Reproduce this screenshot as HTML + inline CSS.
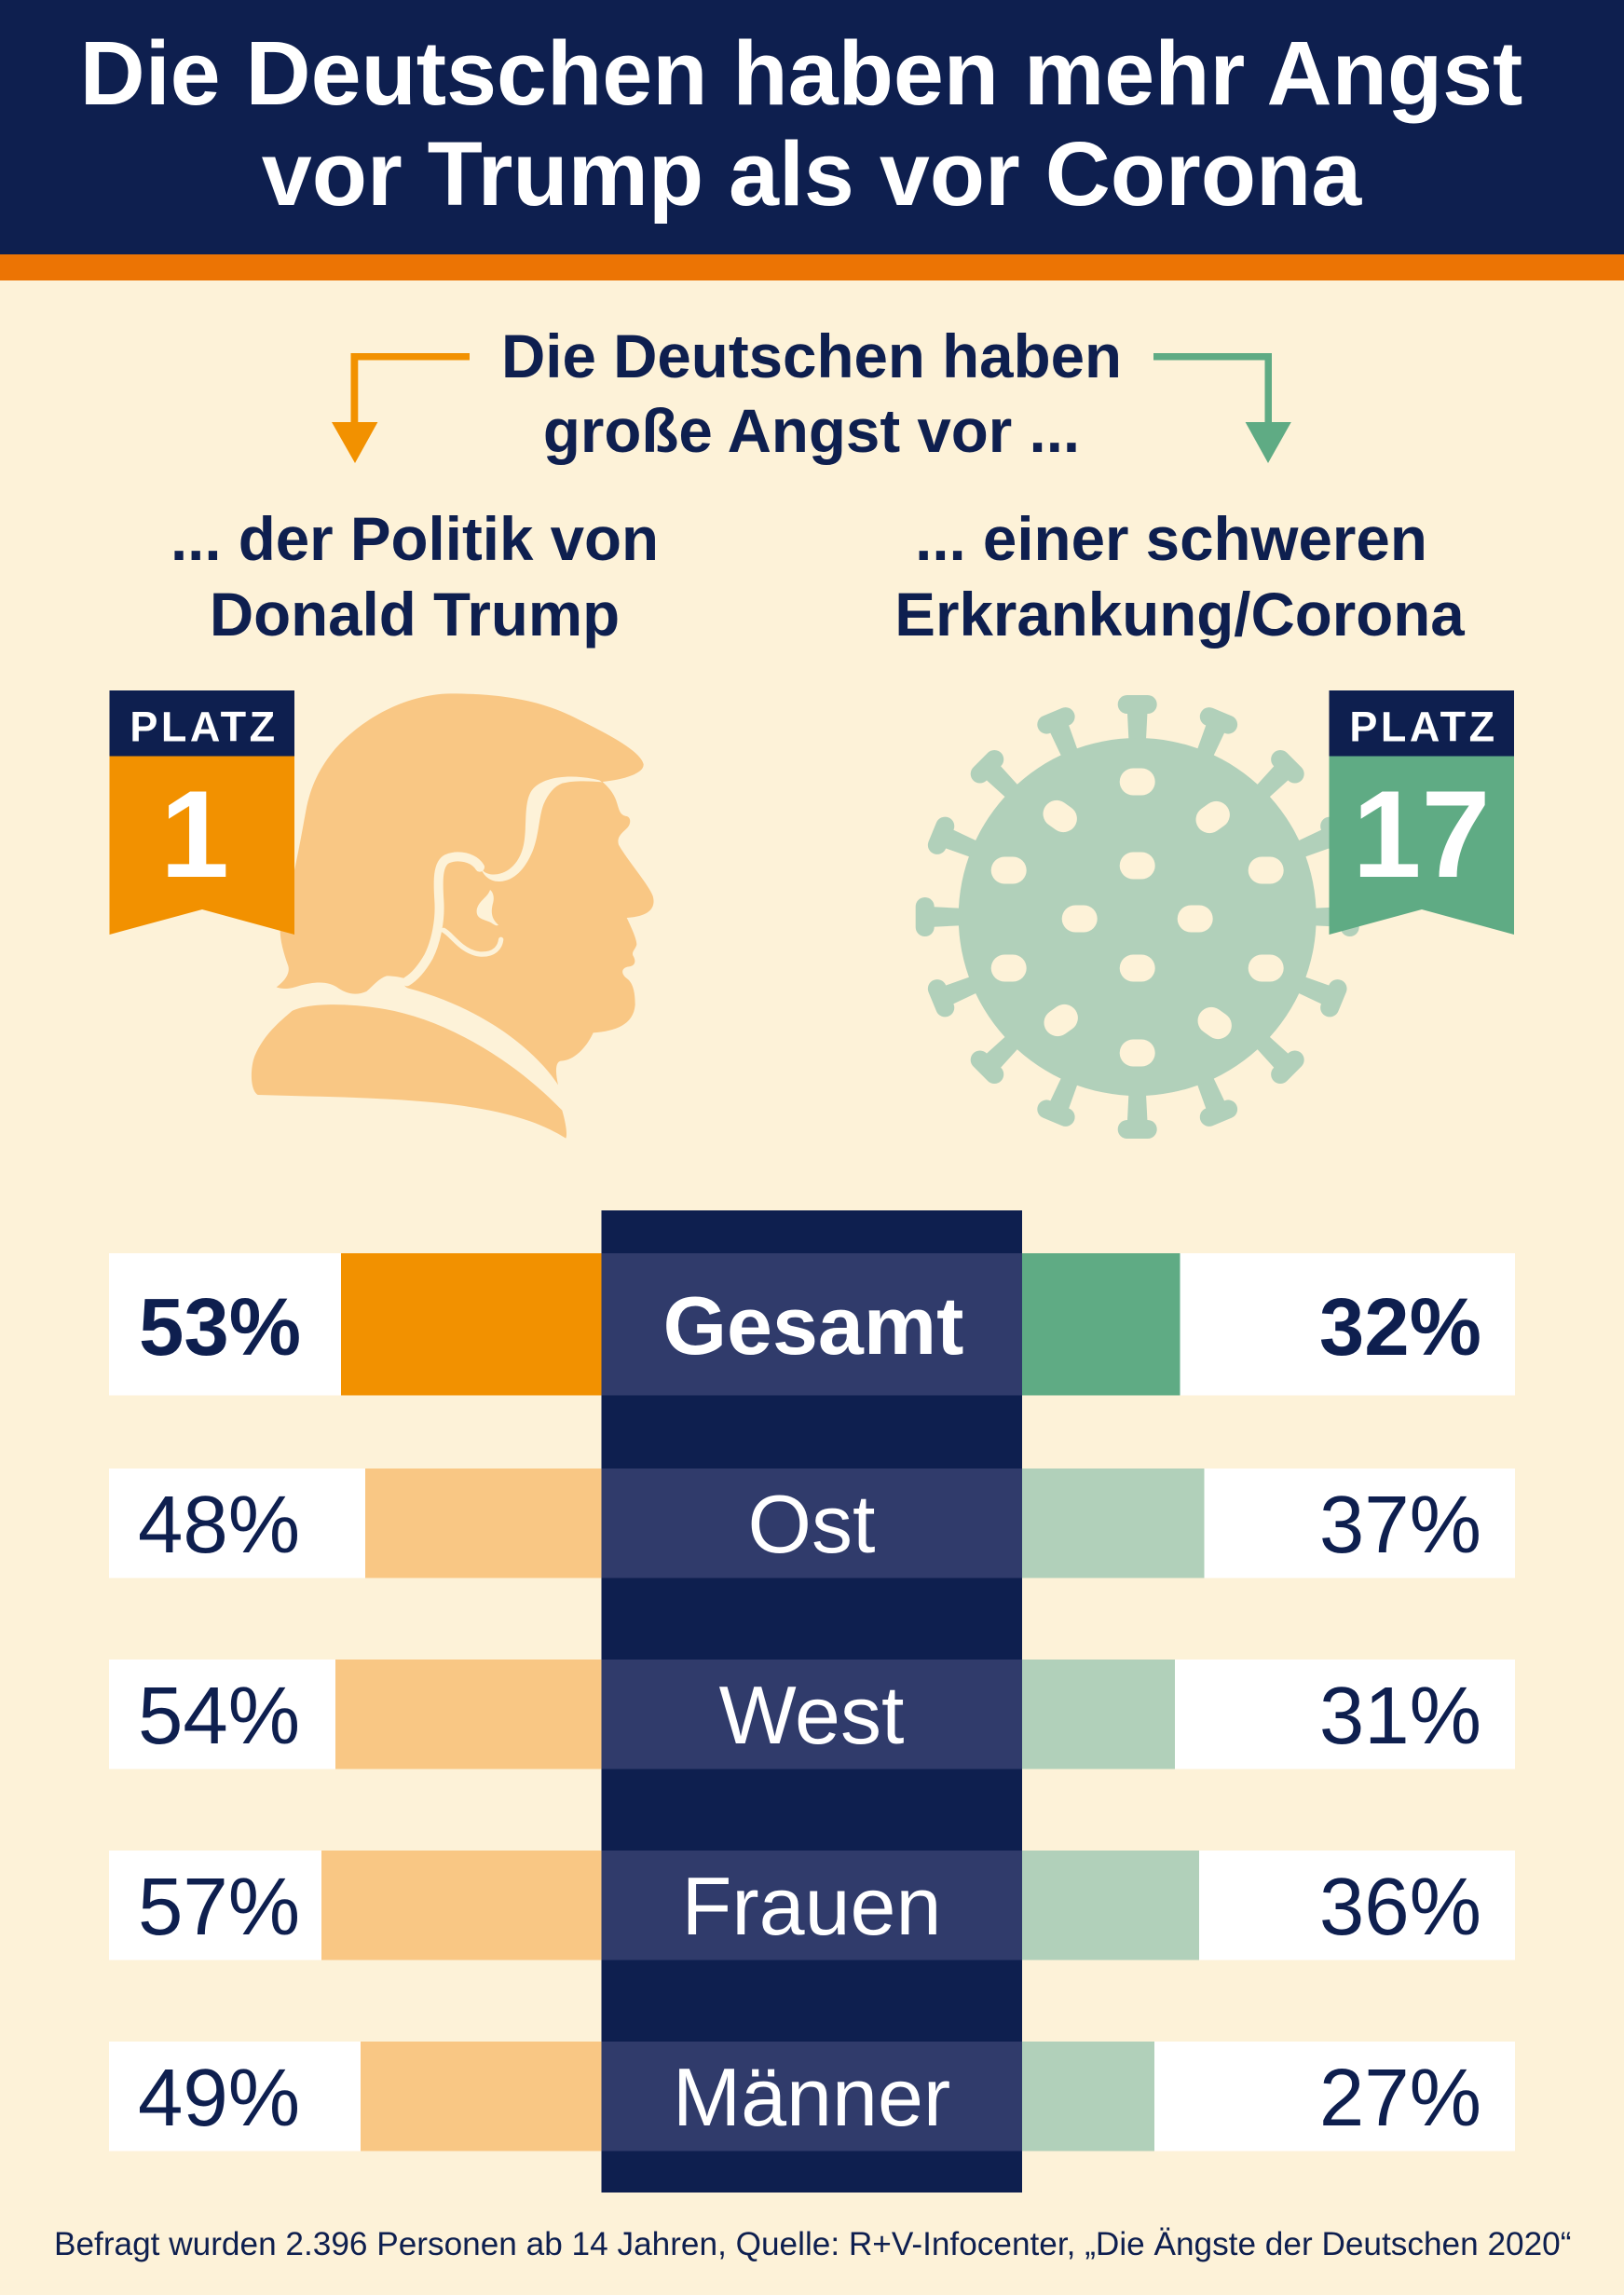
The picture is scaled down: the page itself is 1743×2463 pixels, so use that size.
<!DOCTYPE html>
<html><head><meta charset="utf-8"><style>
html,body{margin:0;padding:0;background:#fdf2d8;}
svg{display:block;}
text{font-family:"Liberation Sans",Arial,sans-serif;}
</style></head><body>
<svg width="1743" height="2463" viewBox="0 0 1743 2463" xmlns="http://www.w3.org/2000/svg">
<defs>
  <g id="sp">
    <polygon points="1211.7,800 1229.7,800 1231.7,760 1209.7,760" fill="#b1d0ba"/>
    <rect x="1199.7" y="746" width="42" height="20" rx="10" fill="#b1d0ba"/>
  </g>
</defs>
<rect width="1743" height="2463" fill="#fdf2d8"/>
<rect x="0" y="0" width="1743" height="273" fill="#0e1f4f"/>
<rect x="0" y="273" width="1743" height="28" fill="#ec7404"/>
<text x="860" y="112" font-size="97" font-weight="bold" fill="#fff" text-anchor="middle">Die Deutschen haben mehr Angst</text>
<text x="871" y="220" font-size="97" font-weight="bold" fill="#fff" text-anchor="middle">vor Trump als vor Corona</text>

<!-- arrows -->
<rect x="376.5" y="379" width="127.5" height="7.5" fill="#f29100"/>
<rect x="376.5" y="379" width="7.8" height="76" fill="#f29100"/>
<polygon points="356,453 405.4,453 381,497" fill="#f29100"/>
<rect x="1238" y="379" width="127" height="7.5" fill="#5fab84"/>
<rect x="1357.5" y="379" width="7.5" height="76" fill="#5fab84"/>
<polygon points="1336.6,453 1385.8,453 1361,497" fill="#5fab84"/>

<text x="871" y="405" font-size="65.5" font-weight="bold" fill="#0e1f4f" text-anchor="middle">Die Deutschen haben</text>
<text x="871" y="485" font-size="65.5" font-weight="bold" fill="#0e1f4f" text-anchor="middle">große Angst vor ...</text>
<text x="445" y="601" font-size="65.5" font-weight="bold" fill="#0e1f4f" text-anchor="middle">... der Politik von</text>
<text x="445" y="682" font-size="65.5" font-weight="bold" fill="#0e1f4f" text-anchor="middle">Donald Trump</text>
<text x="1257" y="601" font-size="65.5" font-weight="bold" fill="#0e1f4f" text-anchor="middle">... einer schweren</text>
<text x="1266" y="682" font-size="65.5" font-weight="bold" fill="#0e1f4f" text-anchor="middle">Erkrankung/Corona</text>

<!-- Trump silhouette -->
<g transform="translate(250,720) scale(0.333333)">
  <path fill="#f9c784" d="M140,1018 C165,1000 185,975 178,950 C160,900 150,860 152,820 C190,700 215,560 235,450 C250,370 280,310 330,250 C420,150 560,75 700,73 C880,73 1000,100 1100,150 C1200,200 1310,255 1322,300 C1325,330 1260,350 1190,357 C1215,380 1230,400 1238,430 C1245,455 1250,465 1268,468 C1282,472 1282,492 1270,505 C1250,525 1235,535 1242,560 C1270,610 1340,690 1352,725 C1362,760 1345,790 1268,795 C1285,830 1300,865 1300,880 C1298,895 1280,905 1290,920 C1298,935 1295,950 1275,952 C1250,955 1248,975 1268,990 C1290,1005 1295,1040 1295,1075 C1290,1140 1230,1160 1160,1165 C1140,1210 1100,1255 1055,1256 C1035,1262 1040,1300 1047,1333 C980,1230 820,1090 565,1022 C545,1015 548,997 570,995 C540,985 515,982 495,982 C470,990 455,1010 430,1032 C400,1045 370,1042 340,1022 C310,1000 270,998 210,1015 C180,1025 160,1025 140,1018 Z"/>
  <path fill="#fdf2d8" d="M1180,352 C1100,332 1000,335 962,385 C935,425 948,500 936,560 C920,635 868,660 830,655 C812,652 805,645 797,632 C805,660 830,680 860,678 C905,675 940,640 965,580 C985,530 985,470 1000,430 C1015,395 1035,372 1060,362 C1100,352 1150,355 1188,358 Z"/>
  <path fill="none" stroke="#fdf2d8" stroke-width="30" stroke-linecap="round" d="M795,632 C775,600 725,590 690,605 C658,620 660,680 664,740 C668,800 655,870 630,920 C610,955 585,985 560,1000"/>
  <path fill="none" stroke="#fdf2d8" stroke-width="16" stroke-linecap="round" d="M678,835 C705,848 735,905 795,912 C842,915 860,890 863,865"/>
  <path fill="#fdf2d8" d="M828,705 C820,730 790,740 785,770 C782,800 810,800 830,810 C845,820 850,822 855,818 C835,800 828,780 838,745 C842,730 838,712 828,705 Z"/>
  <path fill="#f9c784" d="M190,1095 C250,1065 400,1070 520,1095 C700,1135 900,1250 1060,1415 C1070,1450 1078,1490 1072,1505 C1000,1460 900,1420 700,1395 C500,1372 300,1372 80,1365 C55,1350 55,1280 70,1240 C100,1170 150,1130 190,1095 Z"/>
</g>

<!-- Virus -->
<g>
  <use href="#sp"/>
  <use href="#sp" transform="rotate(22.5 1220.7 984)"/>
  <use href="#sp" transform="rotate(45 1220.7 984)"/>
  <use href="#sp" transform="rotate(67.5 1220.7 984)"/>
  <use href="#sp" transform="rotate(90 1220.7 984)"/>
  <use href="#sp" transform="rotate(112.5 1220.7 984)"/>
  <use href="#sp" transform="rotate(135 1220.7 984)"/>
  <use href="#sp" transform="rotate(157.5 1220.7 984)"/>
  <use href="#sp" transform="rotate(180 1220.7 984)"/>
  <use href="#sp" transform="rotate(202.5 1220.7 984)"/>
  <use href="#sp" transform="rotate(225 1220.7 984)"/>
  <use href="#sp" transform="rotate(247.5 1220.7 984)"/>
  <use href="#sp" transform="rotate(270 1220.7 984)"/>
  <use href="#sp" transform="rotate(292.5 1220.7 984)"/>
  <use href="#sp" transform="rotate(315 1220.7 984)"/>
  <use href="#sp" transform="rotate(337.5 1220.7 984)"/>
  <circle cx="1220.7" cy="984" r="192" fill="#b1d0ba"/>
  <g fill="#fdf2d8">
    <rect x="1201.7" y="824.5" width="38" height="29" rx="14.5"/>
    <rect x="1118.7" y="861.5" width="38" height="29" rx="14.5" transform="rotate(35 1137.7 876)"/>
    <rect x="1282.7" y="862.5" width="38" height="29" rx="14.5" transform="rotate(-35 1301.7 877)"/>
    <rect x="1063.7" y="919.5" width="38" height="29" rx="14.5"/>
    <rect x="1201.7" y="914.5" width="38" height="29" rx="14.5"/>
    <rect x="1339.7" y="919.5" width="38" height="29" rx="14.5"/>
    <rect x="1139.7" y="971.5" width="38" height="29" rx="14.5"/>
    <rect x="1263.7" y="971.5" width="38" height="29" rx="14.5"/>
    <rect x="1063.7" y="1024.5" width="38" height="29" rx="14.5"/>
    <rect x="1201.7" y="1024.5" width="38" height="29" rx="14.5"/>
    <rect x="1339.7" y="1024.5" width="38" height="29" rx="14.5"/>
    <rect x="1119.7" y="1080.5" width="38" height="29" rx="14.5" transform="rotate(-35 1138.7 1095)"/>
    <rect x="1284.7" y="1083.5" width="38" height="29" rx="14.5" transform="rotate(35 1303.7 1098)"/>
    <rect x="1201.7" y="1115.5" width="38" height="29" rx="14.5"/>
  </g>
</g>

<!-- Badges -->
<rect x="117.5" y="741" width="198.5" height="71" fill="#0e1f4f"/>
<polygon points="117.5,811.5 316,811.5 316,1003 217,976 117.5,1003" fill="#f29100"/>
<text x="219" y="795.5" font-size="45" font-weight="bold" fill="#fff" text-anchor="middle" letter-spacing="3.5">PLATZ</text>
<text x="209" y="941" font-size="133" font-weight="bold" fill="#fff" text-anchor="middle">1</text>

<rect x="1426.5" y="741" width="198.5" height="71" fill="#0e1f4f"/>
<polygon points="1426.5,811.5 1625,811.5 1625,1003 1526,976 1426.5,1003" fill="#5fab84"/>
<text x="1528" y="795.5" font-size="45" font-weight="bold" fill="#fff" text-anchor="middle" letter-spacing="3.5">PLATZ</text>
<text x="1525.5" y="941" font-size="133" font-weight="bold" fill="#fff" text-anchor="middle">17</text>

<!-- Bars -->
<rect x="645.5" y="1299" width="451.5" height="1054" fill="#0e1f4f"/>

<rect x="117" y="1345" width="1509" height="152.5" fill="#fff"/>
<rect x="366" y="1345" width="279.5" height="152.5" fill="#f29100"/>
<rect x="1097" y="1345" width="169.5" height="152.5" fill="#5fab84"/>
<rect x="645.5" y="1345" width="451.5" height="152.5" fill="#303b6b"/>
<text x="149" y="1454" font-size="87" font-weight="bold" fill="#0e1f4f">53%</text>
<text x="1590" y="1454" font-size="87" font-weight="bold" fill="#0e1f4f" text-anchor="end">32%</text>
<text x="873" y="1453" font-size="88" font-weight="bold" fill="#fff" text-anchor="middle">Gesamt</text>

<rect x="117" y="1576" width="1509" height="117.5" fill="#fff"/>
<rect x="392" y="1576" width="253.5" height="117.5" fill="#f9c784"/>
<rect x="1097" y="1576" width="195.5" height="117.5" fill="#b1d0ba"/>
<rect x="645.5" y="1576" width="451.5" height="117.5" fill="#303b6b"/>
<text x="148" y="1666" font-size="87" fill="#0e1f4f">48%</text>
<text x="1590" y="1666" font-size="87" fill="#0e1f4f" text-anchor="end">37%</text>
<text x="871" y="1666" font-size="88" fill="#fff" text-anchor="middle">Ost</text>

<rect x="117" y="1781" width="1509" height="117.5" fill="#fff"/>
<rect x="360" y="1781" width="285.5" height="117.5" fill="#f9c784"/>
<rect x="1097" y="1781" width="164" height="117.5" fill="#b1d0ba"/>
<rect x="645.5" y="1781" width="451.5" height="117.5" fill="#303b6b"/>
<text x="148" y="1871" font-size="87" fill="#0e1f4f">54%</text>
<text x="1590" y="1871" font-size="87" fill="#0e1f4f" text-anchor="end">31%</text>
<text x="871" y="1871" font-size="88" fill="#fff" text-anchor="middle">West</text>

<rect x="117" y="1986" width="1509" height="117.5" fill="#fff"/>
<rect x="345" y="1986" width="300.5" height="117.5" fill="#f9c784"/>
<rect x="1097" y="1986" width="190" height="117.5" fill="#b1d0ba"/>
<rect x="645.5" y="1986" width="451.5" height="117.5" fill="#303b6b"/>
<text x="148" y="2076" font-size="87" fill="#0e1f4f">57%</text>
<text x="1590" y="2076" font-size="87" fill="#0e1f4f" text-anchor="end">36%</text>
<text x="871" y="2076" font-size="88" fill="#fff" text-anchor="middle">Frauen</text>

<rect x="117" y="2191" width="1509" height="117.5" fill="#fff"/>
<rect x="387" y="2191" width="258.5" height="117.5" fill="#f9c784"/>
<rect x="1097" y="2191" width="142" height="117.5" fill="#b1d0ba"/>
<rect x="645.5" y="2191" width="451.5" height="117.5" fill="#303b6b"/>
<text x="148" y="2281" font-size="87" fill="#0e1f4f">49%</text>
<text x="1590" y="2281" font-size="87" fill="#0e1f4f" text-anchor="end">27%</text>
<text x="871" y="2281" font-size="88" fill="#fff" text-anchor="middle">Männer</text>

<text x="58" y="2420" font-size="35.2" fill="#0e1f4f">Befragt wurden 2.396 Personen ab 14 Jahren, Quelle: R+V-Infocenter, „Die Ängste der Deutschen 2020“</text>
</svg>
</body></html>
